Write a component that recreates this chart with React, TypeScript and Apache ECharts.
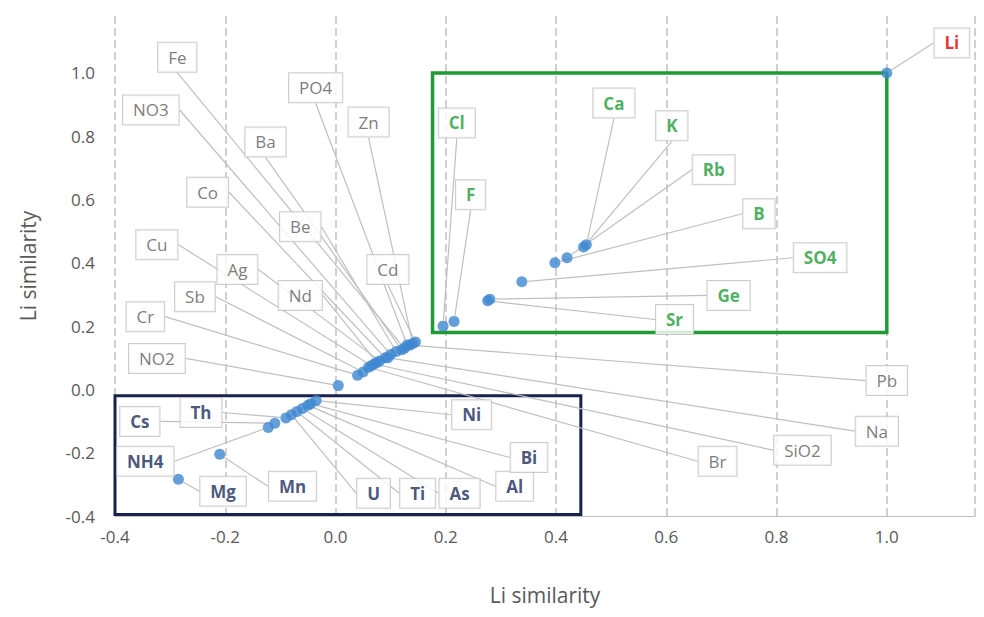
import * as echarts from "echarts";
import React, { useEffect, useRef } from "react";

// element names, x / y similarity, label group
const names = [
  "Li", "Cl", "F", "Ca", "K", "Rb", "B", "SO4", "Ge", "Sr",
  "Fe", "NO3", "Ba", "PO4", "Zn", "Co", "Be", "Cu", "Ag", "Cd", "Sb", "Nd", "Cr", "NO2", "Pb", "Na", "SiO2", "Br",
  "Cs", "Th", "NH4", "Mg", "Mn", "U", "Ti", "As", "Al", "Bi", "Ni",
];
const xVals = [
  1.0, 0.195, 0.215, 0.455, 0.45, 0.42, 0.398, 0.338, 0.28, 0.276,
  0.125, 0.1, 0.12, 0.13, 0.14, 0.09, 0.11, 0.065, 0.08, 0.145, 0.05, 0.075, 0.04, 0.005, 0.135, 0.095, 0.07, 0.06,
  -0.11, -0.09, -0.122, -0.285, -0.21, -0.08, -0.07, -0.06, -0.05, -0.045, -0.035,
];
const yVals = [
  1.0, 0.2, 0.215, 0.457, 0.45, 0.416, 0.4, 0.34, 0.285, 0.28,
  0.13, 0.11, 0.125, 0.14, 0.145, 0.1, 0.12, 0.075, 0.09, 0.15, 0.055, 0.085, 0.045, 0.012, 0.14, 0.1, 0.08, 0.07,
  -0.107, -0.09, -0.12, -0.284, -0.205, -0.08, -0.07, -0.06, -0.05, -0.045, -0.035,
];
const groups = [
  "red", "green", "green", "green", "green", "green", "green", "green", "green", "green",
  "gray", "gray", "gray", "gray", "gray", "gray", "gray", "gray", "gray", "gray", "gray", "gray", "gray", "gray", "gray", "gray", "gray", "gray",
  "navy", "navy", "navy", "navy", "navy", "navy", "navy", "navy", "navy", "navy", "navy",
];
const xTicks = [-0.4, 1.16];
const yTicks = [-0.4, 1.18];

// label box centres (data coords), layout only
const labelAt: [number, number][] = [
  [1.118, 1.095], [0.22, 0.842], [0.245, 0.615], [0.505, 0.905], [0.61, 0.833], [0.686, 0.694], [0.768, 0.555], [0.879, 0.416], [0.713, 0.297], [0.615, 0.221],
  [-0.287, 1.05], [-0.335, 0.883], [-0.127, 0.782], [-0.036, 0.953], [0.06, 0.845], [-0.232, 0.623], [-0.064, 0.514], [-0.324, 0.457], [-0.178, 0.379], [0.095, 0.379], [-0.255, 0.293], [-0.064, 0.297], [-0.345, 0.23], [-0.324, 0.098], [1.0, 0.028], [0.982, -0.132], [0.847, -0.192], [0.693, -0.227],
  [-0.355, -0.101], [-0.244, -0.073], [-0.345, -0.227], [-0.204, -0.322], [-0.078, -0.306], [0.069, -0.328], [0.149, -0.328], [0.225, -0.328], [0.325, -0.306], [0.351, -0.215], [0.247, -0.08],
];

const colorOf: Record<string, string> = { red: "#e00000", green: "#1e9b35", navy: "#1a2b5c", gray: "#595959" };

export default function App() {
  const ref = useRef<HTMLDivElement | null>(null);

  useEffect(() => {
    if (!ref.current) return;
    const chart = echarts.init(ref.current, undefined, { renderer: "svg" });

    const data = names.map((n, i) => ({
      value: [xVals[i], yVals[i]],
      name: n,
      label: {
        color: colorOf[groups[i]],
        fontWeight: groups[i] === "gray" ? "normal" : "bold",
      },
    }));

    const base: any = {
      animation: false,
      textStyle: { fontFamily: "Open Sans" },
      grid: { left: 107, right: 1, top: 8, bottom: 93, outerBoundsMode: "none" },
      xAxis: {
        type: "value",
        min: xTicks[0],
        max: xTicks[1],
        interval: 0.2,
        name: "Li similarity",
        nameLocation: "middle",
        nameGap: 68,
        nameTextStyle: { fontSize: 21, color: "#595959" },
        axisLine: { show: true, onZero: false, lineStyle: { color: "#bfbfbf" } },
        axisTick: { show: false },
        axisLabel: { fontSize: 17, color: "#595959", margin: 12, showMaxLabel: false, formatter: (v: number) => v.toFixed(1) },
        splitLine: { show: true, lineStyle: { type: "dashed", color: "#d0d0d0", width: 2 } },
      },
      yAxis: {
        type: "value",
        min: yTicks[0],
        max: yTicks[1],
        interval: 0.2,
        name: "Li similarity",
        nameLocation: "middle",
        nameGap: 77,
        nameTextStyle: { fontSize: 21, color: "#595959" },
        axisLine: { show: false },
        axisTick: { show: false },
        axisLabel: { fontSize: 17, color: "#595959", margin: 20, showMaxLabel: false, formatter: (v: number) => v.toFixed(1) },
        splitLine: { show: false },
      },
      series: [
        {
          type: "scatter",
          symbolSize: 11,
          itemStyle: { color: "#3f87d0" },
          data,
          z: 3,
          label: {
            show: true,
            formatter: "{b}",
            fontSize: 17,
            backgroundColor: "#fff",
            borderColor: "#bfbfbf",
            borderWidth: 1,
            padding: [7, 10, 5, 10],
          },
          labelLine: { show: true, lineStyle: { color: "#bfbfbf", width: 1.2 } },
          markArea: {
            silent: true,
            itemStyle: { color: "rgba(0,0,0,0)", borderWidth: 3.5 },
            data: [
              [{ coord: [0.176, 1.0], itemStyle: { borderColor: "#1e9b35", color: "rgba(0,0,0,0)", borderWidth: 3.5 } }, { coord: [1.0, 0.18] }],
              [{ coord: [-0.4, -0.02], itemStyle: { borderColor: "#17224f", color: "rgba(0,0,0,0)", borderWidth: 3 } }, { coord: [0.445, -0.395] }],
            ],
          },
        },
      ],
    };
    chart.setOption(base);
    const px = labelAt.map((p) => chart.convertToPixel({ gridIndex: 0 }, p) as number[]);
    chart.setOption({
      series: [
        {
          labelLayout: (params: any) => {
            const p = px[params.dataIndex];
            return { x: p[0], y: p[1], align: "center", verticalAlign: "middle" };
          },
        },
      ],
    });

    const onResize = () => chart.resize();
    window.addEventListener("resize", onResize);
    return () => {
      window.removeEventListener("resize", onResize);
      chart.dispose();
    };
  }, []);

  return <div ref={ref} style={{ width: 968, height: 601 }} />;
}
